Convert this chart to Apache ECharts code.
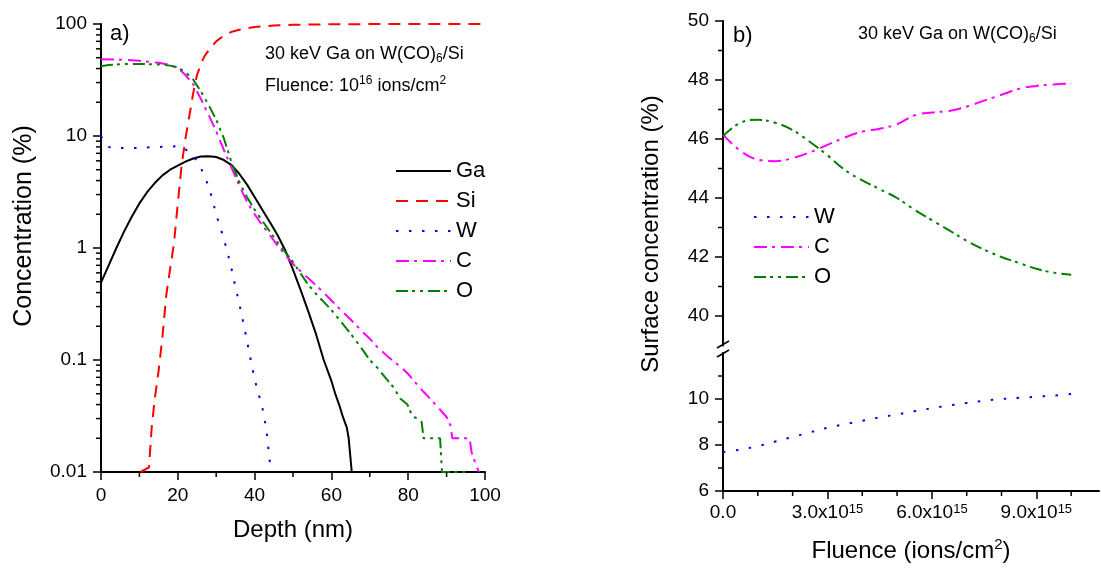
<!DOCTYPE html>
<html><head><meta charset="utf-8">
<script src="https://cdn.jsdelivr.net/npm/echarts@6/dist/echarts.min.js"></script>
<style>html,body{margin:0;padding:0;background:#fff}#c{width:1101px;height:569px}</style>
</head><body><div id="c"></div><script>
// ---------- Panel a) depth profiles ----------
const gaDepth = [0,2,4,6,8,10,12,14,16,18,20,22,24,26,28,30,32,34,36,38,40,42,44,46,48,50,52,54,56,58,60,61,62,63,64,64.5,65,65.3,69.5];
const gaConc  = [0.49,0.7,1.0,1.4,1.9,2.5,3.15,3.8,4.45,5.0,5.45,5.9,6.3,6.55,6.6,6.5,6.1,5.5,4.6,3.7,2.85,2.2,1.7,1.3,0.95,0.64,0.42,0.27,0.17,0.1,0.065,0.05,0.04,0.031,0.025,0.02,0.02,0.01,0.01];
const siDepth = [10.3,12.5,13.2,14,15,16,17,18,19,20,21,22,23,24,25,26,27,28,30,32,34,36,40,45,50,60,70,80,100];
const siConc  = [0.01,0.011,0.025,0.045,0.08,0.16,0.38,0.65,1.1,2.5,5.5,9.5,15,24,35,44,52,58,70,79,85,89,94,97,98.5,99.5,99.8,100,100];
const wDepth  = [0,1,2,3,5,8,12,16,20,21,22,23,24,25,26,27,28,29,30,31,32,33,34,35,36,37,38,39,40,41,42,43,44,44.3];
const wConc   = [10,8.6,8,7.8,7.8,7.8,7.9,8.0,8.1,8.0,7.6,7.1,6.6,6.0,5.2,4.3,3.6,2.7,2.0,1.55,1.2,0.9,0.65,0.45,0.32,0.22,0.15,0.1,0.068,0.05,0.038,0.025,0.012,0.01];
const cDepth  = [0,5,10,15,18,20,22,24,26,28,30,32,34,36,38,40,42,44,46,48,50,52,55,58,60,62,65,68,70,72,75,78,80,82,84,86,88,90,91,91.5,96,96.5,97.5,98.4];
const cConc   = [48.5,48,47,45,43,40.5,35,29,21.5,15.5,11,7.5,5.2,3.6,2.6,2.0,1.6,1.3,1.05,0.87,0.72,0.62,0.5,0.4,0.34,0.29,0.23,0.18,0.155,0.13,0.105,0.087,0.075,0.062,0.052,0.044,0.037,0.031,0.026,0.02,0.02,0.015,0.012,0.01];
const oDepth  = [0,2,5,10,15,18,20,22,24,26,28,30,32,34,36,38,40,42,44,46,48,50,52,54,56,58,60,62,64,66,68,70,72,74,76,78,79.8,81,83.5,84,88.3,88.8,96];
const oConc   = [42,43,43.8,44,43.5,42.5,41,37,32,25,19,14,9.5,5.8,3.9,2.85,2.2,1.75,1.4,1.12,0.92,0.75,0.59,0.47,0.39,0.33,0.28,0.23,0.19,0.155,0.125,0.1,0.085,0.07,0.058,0.045,0.04,0.032,0.028,0.02,0.02,0.01,0.01];
const logMinorTicks = [0.02,0.03,0.04,0.05,0.06,0.07,0.08,0.09,0.2,0.3,0.4,0.5,0.6,0.7,0.8,0.9,2,3,4,5,6,7,8,9,20,30,40,50,60,70,80,90];
const depthMinorTicks = [10,30,50,70,90];

// ---------- Panel b) surface concentration vs fluence ----------
const fluence = [0,0.5e15,1e15,1.5e15,2e15,2.5e15,3e15,3.5e15,4e15,4.5e15,5e15,5.5e15,6e15,6.5e15,7e15,7.5e15,8e15,8.5e15,9e15,9.5e15,1e16];
const wSurf = [7.7,7.8,7.95,8.15,8.35,8.55,8.75,8.9,9.05,9.2,9.33,9.47,9.6,9.72,9.83,9.92,10.0,10.05,10.1,10.15,10.22];
const cSurf = [46.15,45.6,45.3,45.25,45.35,45.55,45.8,46.05,46.25,46.35,46.5,46.8,46.9,46.95,47.1,47.3,47.5,47.7,47.8,47.85,47.88];
const oSurf = [46.1,46.55,46.65,46.55,46.3,45.9,45.45,44.95,44.6,44.3,44.0,43.6,43.25,42.9,42.55,42.25,42.0,41.8,41.6,41.47,41.4];
const fluenceMajor = [0,3e15,6e15,9e15];
const fluenceMinor = [1e15,2e15,4e15,5e15,7e15,8e15,1e16];
const topMajor = [40,42,44,46,48,50];
const topMinor = [41,43,45,47,49];
const botMajor = [6,8,10];
const botMinor = [7,9,11];

const FONT = 'Liberation Sans, Arial, Helvetica, sans-serif';
const zip = (a, b) => a.map((v, i) => [v, b[i]]);
const styles = {
  Ga: {color:'#000000', type:'solid'},
  Si: {color:'#ff0000', type:[12,8]},
  W:  {color:'#0000ff', type:[2.5,10.5]},
  C:  {color:'#ff00ff', type:[13,5,3,6]},
  O:  {color:'#008000', type:[12,4,3,5,3,5]}
};
function line(name, data, xi, yi, smooth) {
  const s = styles[name];
  return {type:'line', name, data, xAxisIndex:xi, yAxisIndex:yi, symbol:'none', showSymbol:false,
    smooth: smooth || false, animation:false,
    lineStyle:{color:s.color, width:2, type:s.type}, itemStyle:{color:s.color}};
}
// minor ticks drawn through the axes' own scales (outward, short)
function minorTicks(values, xi, yi, dir, other) {
  return {type:'custom', coordinateSystem:'cartesian2d', xAxisIndex:xi, yAxisIndex:yi, silent:true, clip:false, z:5, animation:false,
    data: values.map(v => dir === 'y' ? [other, v] : [v, other]),
    renderItem: function (params, api) {
      const p = api.coord([api.value(0), api.value(1)]);
      const shape = dir === 'y' ? {x1:p[0]-5, y1:p[1], x2:p[0], y2:p[1]} : {x1:p[0], y1:p[1], x2:p[0], y2:p[1]+5};
      return {type:'line', shape: shape, style:{stroke:'#000', lineWidth:1.5}};
    }};
}
const axisLine = {show:true, onZero:false, lineStyle:{color:'#000', width:2}};
const tickMajor = {show:true, length:8, lineStyle:{color:'#000', width:1.5}};
const labelBase = {color:'#000', fontSize:19, fontFamily:FONT};

const chart = echarts.init(document.getElementById('c'), null, {renderer:'canvas'});
chart.setOption({
  backgroundColor:'#ffffff',
  animation:false,
  textStyle:{fontFamily:FONT},
  grid:[
    {left:101, top:24, width:384, height:448},
    {left:723, top:21, width:376, height:324.5},
    {left:723, top:353, width:376, height:138}
  ],
  xAxis:[
    {gridIndex:0, type:'value', min:0, max:100, interval:20,
      axisLine, axisTick:tickMajor,
      splitLine:{show:false},
      axisLabel:Object.assign({margin:14}, labelBase),
      name:'Depth (nm)', nameLocation:'middle', nameGap:46,
      nameTextStyle:{color:'#000', fontSize:24, fontFamily:FONT}},
    {gridIndex:1, type:'value', min:0, max:1.08e16, show:false},
    {gridIndex:2, type:'value', min:0, max:1.08e16,
      axisLine, axisTick:Object.assign({customValues:fluenceMajor}, tickMajor),
      splitLine:{show:false},
      axisLabel:Object.assign({margin:12, customValues:fluenceMajor,
        formatter:v => v === 0 ? '0.0' : (v/1e15).toFixed(1) + 'x10{sup|15}',
        rich:{sup:{fontSize:13, verticalAlign:'top', lineHeight:14, padding:[0,0,8,0], fontFamily:FONT, color:'#000'}}}, labelBase),
      name:'Fluence (ions/cm{sup|2})', nameLocation:'middle', nameGap:46,
      nameTextStyle:{color:'#000', fontSize:24, lineHeight:28, fontFamily:FONT,
        rich:{sup:{fontSize:15, lineHeight:15, verticalAlign:'top', fontFamily:FONT, color:'#000'}}}}
  ],
  yAxis:[
    {gridIndex:0, type:'log', logBase:10, min:0.01, max:100, position:'left',
      axisLine, axisTick:tickMajor, splitLine:{show:false},
      axisLabel:Object.assign({margin:14}, labelBase)},
    {gridIndex:1, type:'value', min:39, max:50, position:'left',
      axisLine, axisTick:Object.assign({customValues:topMajor}, tickMajor), splitLine:{show:false},
      axisLabel:Object.assign({margin:14, customValues:topMajor}, labelBase)},
    {gridIndex:2, type:'value', min:6, max:12, position:'left',
      axisLine, axisTick:Object.assign({customValues:botMajor}, tickMajor), splitLine:{show:false},
      axisLabel:Object.assign({margin:14, customValues:botMajor}, labelBase)}
  ],
  legend:[
    {data:['Ga','Si','W','C','O'], orient:'vertical', left:390, top:155, itemWidth:55, itemHeight:14, itemGap:8,
      itemStyle:{opacity:0},
      textStyle:{color:'#000', fontSize:22, lineHeight:22, fontFamily:FONT}, selectedMode:false},
    {data:['W','C','O'], orient:'vertical', left:748, top:201, itemWidth:55, itemHeight:14, itemGap:8,
      itemStyle:{opacity:0},
      textStyle:{color:'#000', fontSize:22, lineHeight:22, fontFamily:FONT}, selectedMode:false}
  ],
  series:[
    line('Ga', zip(gaDepth, gaConc), 0, 0),
    line('Si', zip(siDepth, siConc), 0, 0),
    line('W',  zip(wDepth, wConc), 0, 0),
    line('C',  zip(cDepth, cConc), 0, 0),
    line('O',  zip(oDepth, oConc), 0, 0),
    line('W',  zip(fluence, wSurf), 2, 2, 0.4),
    line('C',  zip(fluence, cSurf), 1, 1, 0.4),
    line('O',  zip(fluence, oSurf), 1, 1, 0.4),
    minorTicks(logMinorTicks, 0, 0, 'y', 0),
    minorTicks(depthMinorTicks, 0, 0, 'x', 0.01),
    minorTicks(topMinor, 1, 1, 'y', 0),
    minorTicks(botMinor, 2, 2, 'y', 0),
    minorTicks(fluenceMinor, 2, 2, 'x', 6)
  ],
  graphic:[
    {type:'text', x:24, y:226, rotation:Math.PI/2,
      style:{text:'Concentration (%)', fontSize:25, fontFamily:FONT, fill:'#000', align:'center', verticalAlign:'middle'}},
    {type:'text', x:651, y:234, rotation:Math.PI/2,
      style:{text:'Surface concentration (%)', fontSize:24, fontFamily:FONT, fill:'#000', align:'center', verticalAlign:'middle'}},
    {type:'text', x:110, y:34,
      style:{text:'a)', fontSize:22, fontFamily:FONT, fill:'#000', align:'left', verticalAlign:'middle'}},
    {type:'text', x:733, y:36,
      style:{text:'b)', fontSize:22, fontFamily:FONT, fill:'#000', align:'left', verticalAlign:'middle'}},
    {type:'text', x:265, y:54,
      style:{text:'30 keV Ga on W(CO){sub|6}/Si', fontSize:18, lineHeight:22, fontFamily:FONT, fill:'#000', align:'left', verticalAlign:'middle',
        rich:{sub:{fontSize:12, lineHeight:12, verticalAlign:'bottom', padding:[6,0,0,0], fontFamily:FONT, fill:'#000'}}}},
    {type:'text', x:265, y:86,
      style:{text:'Fluence: 10{sup|16} ions/cm{sup|2}', fontSize:18, lineHeight:22, fontFamily:FONT, fill:'#000', align:'left', verticalAlign:'middle',
        rich:{sup:{fontSize:12, lineHeight:12, verticalAlign:'top', padding:[0,0,6,0], fontFamily:FONT, fill:'#000'}}}},
    {type:'text', x:858, y:34,
      style:{text:'30 keV Ga on W(CO){sub|6}/Si', fontSize:18, lineHeight:22, fontFamily:FONT, fill:'#000', align:'left', verticalAlign:'middle',
        rich:{sub:{fontSize:12, lineHeight:12, verticalAlign:'bottom', padding:[6,0,0,0], fontFamily:FONT, fill:'#000'}}}},
    {type:'line', shape:{x1:717, y1:348, x2:729, y2:341}, style:{stroke:'#000', lineWidth:1.5}},
    {type:'line', shape:{x1:717, y1:357, x2:729, y2:350}, style:{stroke:'#000', lineWidth:1.5}}
  ]
});
</script></body></html>
